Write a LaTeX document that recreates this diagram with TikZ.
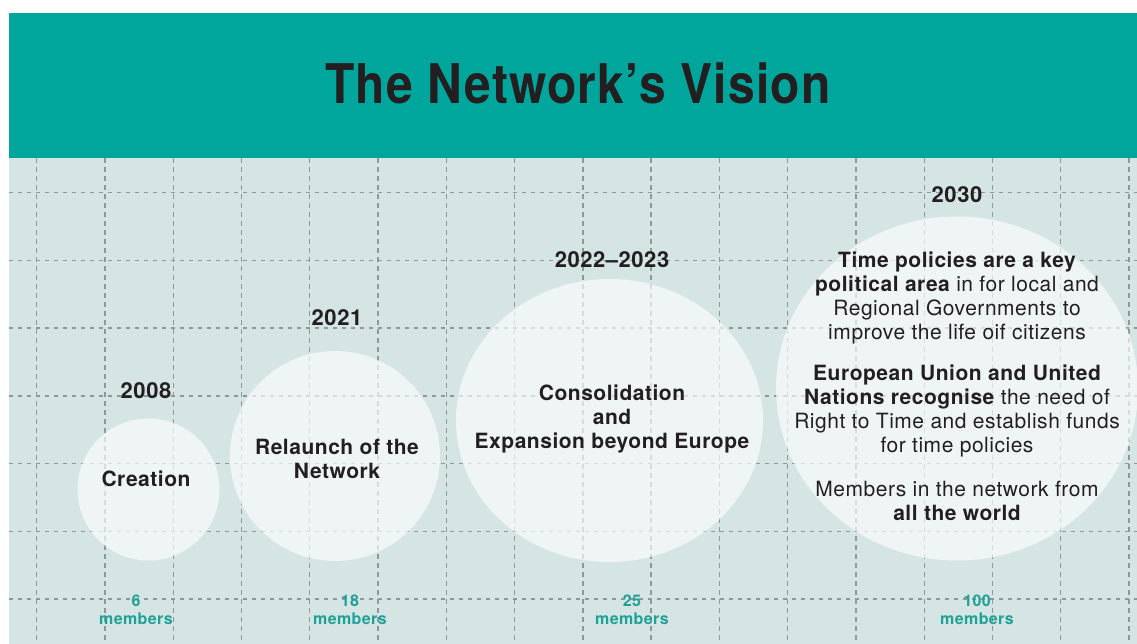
\documentclass[tikz,border=0pt]{standalone}
\usepackage{fontspec}
\setmainfont{TeX Gyre Heros}[LetterSpace=2.5]
\definecolor{hdr}{HTML}{00A59C}
\definecolor{bgc}{HTML}{D4E5E3}
\definecolor{gridc}{HTML}{8E9898}
\definecolor{ink}{HTML}{231F20}
\definecolor{memc}{HTML}{1FA197}
\tikzset{
  gridline/.style={draw=gridc, line width=1.3pt, dash pattern=on 4.5pt off 4.5pt},
  bubble/.style={fill=white, fill opacity=0.65},
  yearlbl/.style={font=\fontsize{22}{24}\selectfont\bfseries, text=ink, inner sep=0pt},
  body/.style={font=\fontsize{21}{24}\selectfont, text=ink, align=center, inner sep=0pt},
  memlbl/.style={font=\fontsize{16}{18.5}\selectfont\bfseries, text=memc, align=center, inner sep=0pt},
}
\begin{document}
\begin{tikzpicture}[x=1pt,y=-1pt]
\useasboundingbox (0,0) rectangle (1137,644);
\fill[hdr] (8.7,13.3) rectangle (1137,158.3);
\fill[bgc] (8.7,158.3) rectangle (1137,644);
\foreach \i in {0,...,16} \draw[gridline] ({36.7+68.27*\i},158.3) -- ({36.7+68.27*\i},644);
\foreach \j in {0,...,6} \draw[gridline] (8.7,{192.7+67.72*\j}) -- (1137,{192.7+67.72*\j});
\node[font=\fontsize{48}{56}\selectfont\bfseries, text=ink, inner sep=0pt] (title) at (578,83.5) {\scalebox{1}[1.14]{The Network’s Vision}};
% bubbles
\fill[bubble] (148.5,489.5) circle (71);
\fill[bubble] (335,456) circle (105);
\fill[bubble] (609.5,420.5) ellipse [x radius=153.5, y radius=141.5];
\fill[bubble] (957,388.5) ellipse [x radius=181, y radius=172];
% years
\node[yearlbl] (y1) at (146,391) {2008};
\node[yearlbl] (y2) at (337,318) {2021};
\node[yearlbl] (y3) at (612,260) {2022–2023};
\node[yearlbl] (y4) at (957,195) {2030};
% circle texts
\node[body, font=\fontsize{21}{24}\selectfont\bfseries] (t1) at (146,479) {Creation};
\node[body, font=\fontsize{21}{24}\selectfont\bfseries] (t2) at (337,459) {Relaunch of the\\Network};
\node[body, font=\fontsize{21}{24}\selectfont\bfseries] (t3) at (612,419) {Consolidation\\and\\Expansion beyond Europe};
\node[body] (t4a) at (957,298) {{\bfseries Time policies are a key}\\{\bfseries political area} in for local and\\Regional Governments to\\improve the life oif citizens};
\node[body] (t4b) at (957,411) {{\bfseries European Union and United}\\{\bfseries Nations recognise} the need of\\Right to Time and establish funds\\for time policies};
\node[body] (t4c) at (957,501) {Members in the network from\\{\bfseries all the world}};
% members
\node[memlbl] (m1) at (136,610) {6\\members};
\node[memlbl] (m2) at (350,610) {18\\members};
\node[memlbl] (m3) at (632,610) {25\\members};
\node[memlbl] (m4) at (977,610) {100\\members};
\end{tikzpicture}
\end{document}
